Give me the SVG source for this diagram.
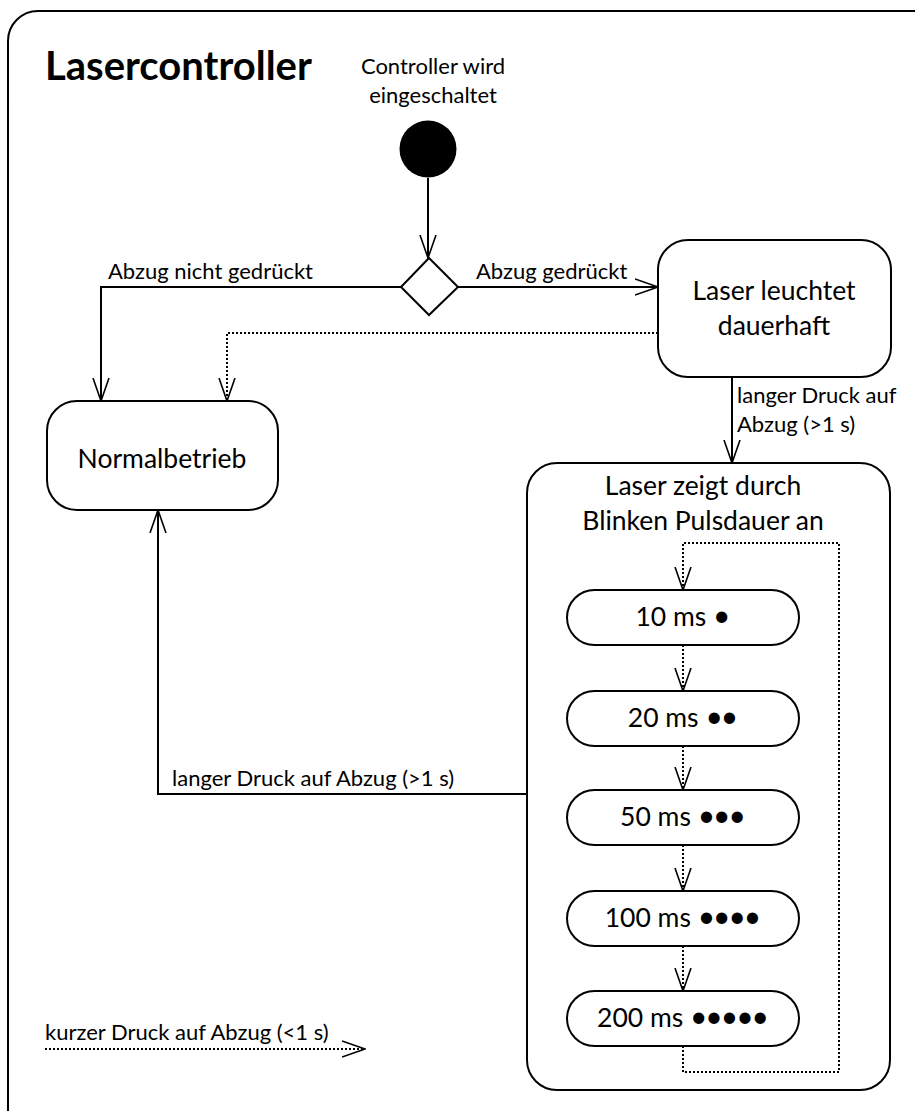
<svg xmlns="http://www.w3.org/2000/svg" width="915" height="1111" viewBox="0 0 915 1111">
<defs>
<marker id="arr" viewBox="0 0 24 18" refX="23" refY="9" markerWidth="24" markerHeight="18" markerUnits="userSpaceOnUse" orient="auto">
<path d="M0,1 L23,9 L0,17" fill="none" stroke="#000" stroke-width="1.6"/>
</marker>
<style>
.frame{fill:#fff;stroke:#000;stroke-width:2}
.node{fill:#fff;stroke:#000;stroke-width:2}
.solid{fill:none;stroke:#000;stroke-width:2;marker-end:url(#arr)}
.dot{fill:none;stroke:#000;stroke-width:2;stroke-dasharray:2 2;marker-end:url(#arr)}
text{font-family:Lato,"Open Sans","Liberation Sans",sans-serif;fill:#000}
.title{font-size:40px;font-weight:bold}
.lbl{font-size:22px}
.nt{font-size:26.5px}
.c{text-anchor:middle}
.b{font-size:30px;letter-spacing:-2px}
</style>
</defs>
<rect class="frame" x="8" y="11" width="940" height="1130" rx="30" ry="30"/>
<text class="title" x="45" y="80">Lasercontroller</text>

<g id="start">
<text class="lbl c" x="433" y="74">Controller wird</text>
<text class="lbl c" x="433" y="103">eingeschaltet</text>
<circle cx="428" cy="149" r="28.5" fill="#000"/>
</g>
<g id="decision">
<polygon class="node" points="429,258 458,287 429,315 401,287"/>
</g>
<g id="dauerhaft">
<rect class="node" x="658" y="240" width="233" height="137" rx="30" ry="30"/>
<text class="nt c" x="774" y="300">Laser leuchtet</text>
<text class="nt c" x="774" y="335">dauerhaft</text>
</g>
<g id="normal">
<rect class="node" x="47" y="401" width="231" height="109" rx="30" ry="30"/>
<text class="nt c" x="162" y="468">Normalbetrieb</text>
</g>
<g id="blinken">
<rect class="node" x="527" y="463" width="363" height="627" rx="30" ry="30"/>
<text class="nt c" x="703" y="495">Laser zeigt durch</text>
<text class="nt c" x="703" y="530">Blinken Pulsdauer an</text>
</g>
<g id="ms10">
<rect class="node" x="567" y="590" width="232" height="55" rx="27.5" ry="27.5"/>
<text class="nt c" x="682" y="626">10 ms <tspan class="b">•</tspan></text>
</g>
<g id="ms20">
<rect class="node" x="567" y="691" width="232" height="55" rx="27.5" ry="27.5"/>
<text class="nt c" x="682" y="727">20 ms <tspan class="b">••</tspan></text>
</g>
<g id="ms50">
<rect class="node" x="567" y="790" width="232" height="55" rx="27.5" ry="27.5"/>
<text class="nt c" x="682" y="826">50 ms <tspan class="b">•••</tspan></text>
</g>
<g id="ms100">
<rect class="node" x="567" y="891" width="232" height="55" rx="27.5" ry="27.5"/>
<text class="nt c" x="682" y="927">100 ms <tspan class="b">••••</tspan></text>
</g>
<g id="ms200">
<rect class="node" x="567" y="991" width="232" height="55" rx="27.5" ry="27.5"/>
<text class="nt c" x="682" y="1027">200 ms <tspan class="b">•••••</tspan></text>
</g>

<g id="connectors">
<path class="solid" d="M428,178 L428,258"/>
<path class="solid" d="M458,287 L658,287"/>
<text class="lbl" x="476" y="279">Abzug gedrückt</text>
<path class="solid" d="M401,287 L101,287 L101,401"/>
<text class="lbl" x="108" y="279">Abzug nicht gedrückt</text>
<path class="dot" d="M658,333 L227,333 L227,401"/>
<path class="solid" d="M732,377 L732,463"/>
<text class="lbl" x="737" y="403">langer Druck auf</text>
<text class="lbl" x="737" y="432">Abzug (&gt;1 s)</text>
<path class="solid" d="M527,794 L158,794 L158,510"/>
<text class="lbl" x="172" y="786">langer Druck auf Abzug (&gt;1 s)</text>
<path class="dot" d="M683,645 L683,691"/>
<path class="dot" d="M683,746 L683,790"/>
<path class="dot" d="M683,845 L683,891"/>
<path class="dot" d="M683,946 L683,991"/>
<path class="dot" d="M683,1046 L683,1072 L839,1072 L839,543 L683,543 L683,590"/>
</g>
<g id="legend">
<text class="lbl" x="45" y="1040">kurzer Druck auf Abzug (&lt;1 s)</text>
<path class="dot" d="M45,1049 L365,1049"/>
</g>
</svg>
